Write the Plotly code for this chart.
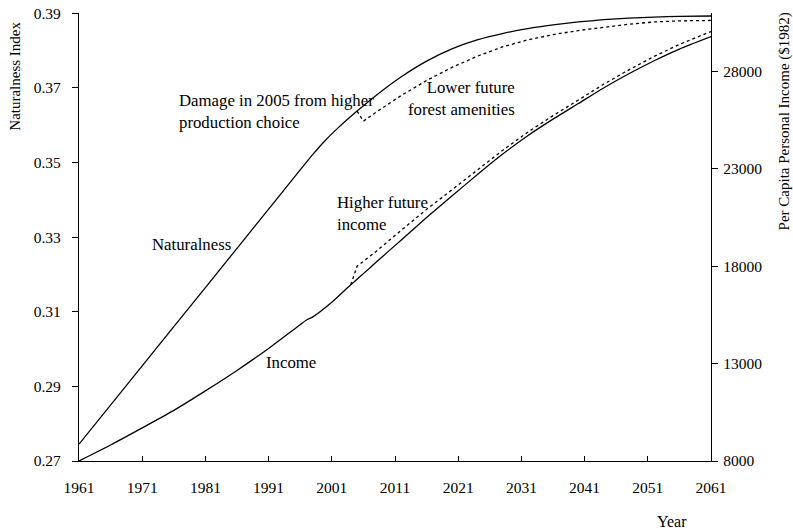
import plotly.graph_objects as go

# ---- data ----
nat_years = [1961, 1971, 1981, 1991, 1998, 2000, 2002, 2005, 2008, 2012, 2016, 2020,
             2024, 2028, 2032, 2036, 2040, 2044, 2048, 2052, 2056, 2061]
nat_base = [0.2745, 0.2955, 0.3165, 0.3375, 0.3522, 0.3560, 0.3593, 0.3638, 0.3680,
            0.3730, 0.3772, 0.3805, 0.3829, 0.3846, 0.3859, 0.3869, 0.3877, 0.3883,
            0.3887, 0.3890, 0.3892, 0.3893]

nat_alt_years = [2005, 2006, 2008, 2010, 2012, 2016, 2020, 2024, 2028, 2032, 2036,
                 2040, 2044, 2048, 2052, 2056, 2061]
nat_alt = [0.3638, 0.3611, 0.3635, 0.3658, 0.3680, 0.3720, 0.3755, 0.3785, 0.3810,
           0.3829, 0.3843, 0.3854, 0.3863, 0.3871, 0.3877, 0.3880, 0.3881]

inc_years = [1961, 1966, 1971, 1976, 1981, 1986, 1991, 1996, 1997, 1998, 2001, 2004,
             2005, 2006, 2008, 2012, 2016, 2020, 2024, 2028, 2032, 2036, 2040, 2044,
             2048, 2052, 2056, 2061]
inc_base = [8000, 8820, 9700, 10600, 11600, 12650, 13780, 15000, 15240, 15400, 16150,
            17050, 17330, 17620, 18200, 19350, 20500, 21600, 22700, 23750, 24700,
            25550, 26350, 27150, 27880, 28550, 29150, 29790]

inc_alt_years = [2004, 2005, 2006, 2008, 2012, 2016, 2020, 2024, 2028, 2032, 2036,
                 2040, 2044, 2048, 2052, 2056, 2061]
inc_alt = [17050, 18000, 18250, 18760, 19850, 20920, 21920, 22930, 23940, 24880,
           25730, 26530, 27340, 28080, 28770, 29390, 30050]

x_ticks = [1961, 1971, 1981, 1991, 2001, 2011, 2021, 2031, 2041, 2051, 2061]
y_ticks = [0.27, 0.29, 0.31, 0.33, 0.35, 0.37, 0.39]
y_tick_text = ["0.27", "0.29", "0.31", "0.33", "0.35", "0.37", "0.39"]
y2_ticks = [8000, 13000, 18000, 23000, 28000]
y2_tick_text = ["8000", "13000", "18000", "23000", "28000"]

FONT = "Liberation Serif, Times New Roman, serif"
solid = dict(color="black", width=1.3, shape="spline", smoothing=0.6)
dashed = dict(color="black", width=1.3, dash="3px,3px")

fig = go.Figure()
fig.add_trace(go.Scatter(x=nat_years, y=nat_base, mode="lines", line=solid,
                         name="Naturalness", yaxis="y"))
fig.add_trace(go.Scatter(x=nat_alt_years, y=nat_alt, mode="lines", line=dashed,
                         name="Naturalness (higher production)", yaxis="y"))
fig.add_trace(go.Scatter(x=inc_years, y=inc_base, mode="lines", line=solid,
                         name="Income", yaxis="y2"))
fig.add_trace(go.Scatter(x=inc_alt_years, y=inc_alt, mode="lines", line=dashed,
                         name="Income (higher production)", yaxis="y2"))

tickfont = dict(family=FONT, size=15.5, color="black")
ann_font = dict(family=FONT, size=16.8, color="black")

fig.update_layout(
    template="none",
    width=793, height=531,
    margin=dict(l=79, r=82, t=13, b=70, pad=0),
    paper_bgcolor="white", plot_bgcolor="white",
    showlegend=False,
    font=dict(family=FONT, color="black"),
    xaxis=dict(range=[1961, 2061], tickvals=x_ticks, ticks="inside", ticklen=5,
               tickcolor="black", showline=True, linecolor="black", linewidth=1.2,
               showgrid=False, zeroline=False, tickfont=tickfont,
               ticklabelstandoff=12, automargin=False),
    yaxis=dict(range=[0.27, 0.3901], tickvals=y_ticks, ticktext=y_tick_text,
               ticks="outside", ticklen=6, tickcolor="black", showline=True,
               linecolor="black", linewidth=1.2, showgrid=False, zeroline=False,
               tickfont=tickfont, ticklabelstandoff=8, automargin=False,
               ticklabeloverflow="allow"),
    yaxis2=dict(range=[8000, 31000], tickvals=y2_ticks, ticktext=y2_tick_text,
                overlaying="y", side="right",
                anchor="x", ticks="outside", ticklen=6, tickcolor="black",
                showline=True, linecolor="black", linewidth=1.2, showgrid=False,
                zeroline=False, tickfont=tickfont, ticklabelstandoff=2,
                automargin=False),
    yaxis3=dict(range=[8000, 31000], tickvals=y2_ticks, overlaying="y", side="right",
                anchor="x", ticks="inside", ticklen=6, tickcolor="black",
                showline=False, showgrid=False, zeroline=False,
                showticklabels=False, automargin=False),
)

annotations = [
    dict(x=1976.5, y=0.3636, text="Damage in 2005 from higher<br>production choice",
         xanchor="left", align="left"),
    dict(x=2030.3, y=0.3672, text="Lower future<br>forest amenities",
         xanchor="right", align="right"),
    dict(x=2001.5, y=0.3364, text="Higher future<br>income",
         xanchor="left", align="left"),
    dict(x=1978.8, y=0.3281, text="Naturalness", xanchor="center"),
    dict(x=1994.5, y=0.2963, text="Income", xanchor="center"),
]
for a in annotations:
    fig.add_annotation(xref="x", yref="y", showarrow=False, font=ann_font,
                       yanchor="middle", **a)

title_font = dict(family=FONT, size=15, color="black")
fig.add_annotation(xref="paper", yref="paper", x=-0.1013, y=0.86,
                   text="Naturalness Index", textangle=-90, showarrow=False,
                   font=title_font, xanchor="center", yanchor="middle")
fig.add_annotation(xref="paper", yref="paper", x=1.117, y=0.7578,
                   text="Per Capita Personal Income ($1982)", textangle=-90,
                   showarrow=False, font=title_font, xanchor="center",
                   yanchor="middle")
fig.add_annotation(xref="paper", yref="paper", x=0.939, y=-0.1355, text="Year",
                   showarrow=False, font=dict(family=FONT, size=16, color="black"),
                   xanchor="center", yanchor="middle")

# remove the default page margin so the figure fills the window exactly
fig.write_html("out.html",
               config={"displayModeBar": False},
               post_script="document.body.style.margin='0';"
                           "document.body.style.overflow='hidden';")
